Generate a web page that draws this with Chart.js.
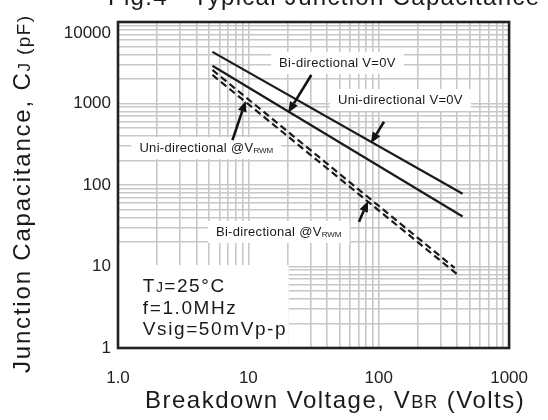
<!DOCTYPE html>
<html><head><meta charset="utf-8">
<script src="https://cdn.jsdelivr.net/npm/chart.js@4"></script>
<style>html,body{margin:0;padding:0;background:#fff;}canvas{display:block;}</style>
</head><body>
<canvas id="c" width="548" height="420"></canvas>
<script>
// ---- data ----
const voltageSolid = [5.3, 440];
const capBiZero = [4300, 78];
const capUniZero = [2900, 41];
const voltageUniRwm = [5.3, 382];
const capUniRwm = [2580, 9.6];
const voltageBiRwm = [5.3, 417];
const capBiRwm = [2240, 7.6];

const xTickValues = [1, 10, 100, 1000];
const xTickLabels = ['1.0', '10', '100', '1000'];
const yTickValues = [1, 10, 100, 1000, 10000];
const yTickLabels = ['1', '10', '100', '1000', '10000'];

const FONT = 'Arial, "Liberation Sans", Helvetica, sans-serif';

function gridVals(min, max) {
  const out = [];
  for (let e = Math.round(Math.log10(min)); Math.pow(10, e) <= max; e++) {
    for (let k = 1; k <= 9; k++) {
      const v = k * Math.pow(10, e);
      if (v >= min - 1e-9 && v <= max + 1e-9) out.push(v);
    }
  }
  return out;
}
function labelFor(vals, labels, v) {
  for (let i = 0; i < vals.length; i++) if (Math.abs(vals[i] - v) / vals[i] < 1e-6) return labels[i];
  return '';
}
function setLS(ctx, v) { if ('letterSpacing' in ctx) ctx.letterSpacing = (v || 0) + 'px'; }
function runsWidth(ctx, runs) {
  let w = 0;
  for (const r of runs) { ctx.font = r.size + 'px ' + FONT; setLS(ctx, r.ls); w += ctx.measureText(r.t).width; }
  setLS(ctx, 0);
  return w;
}
function drawRuns(ctx, x, y, runs) {
  let cx = x;
  for (const r of runs) {
    ctx.font = r.size + 'px ' + FONT; setLS(ctx, r.ls);
    ctx.fillText(r.t, cx, y + (r.dy || 0));
    cx += ctx.measureText(r.t).width;
  }
  setLS(ctx, 0);
  return cx - x;
}

// annotation anchors in data coordinates (volts, pF)
const curveLabels = [
  { runs: [{ t: 'Bi-directional V=0V', size: 13, ls: 0.3 }], x: 48.2, y: 3140 },
  { runs: [{ t: 'Uni-directional V=0V', size: 13, ls: 0.3 }], x: 146.6, y: 1104 },
  { runs: [{ t: 'Uni-directional @V', size: 13, ls: 0.3 }, { t: 'RWM', size: 8, dy: 3 }], x: 4.76, y: 284 },
  { runs: [{ t: 'Bi-directional @V', size: 13, ls: 0.3 }, { t: 'RWM', size: 8, dy: 3 }], x: 17.1, y: 26.5 }
];
const arrows = [
  { from: [30.4, 2238], to: [20.2, 771] },
  { from: [109.8, 598], to: [86.9, 325] },
  { from: [7.55, 356], to: [9.55, 1081] },
  { from: [70.5, 35.5], to: [83, 63.7] }
];
const condBox = { x0: 1, x1: 20.4, y0: 10.4, y1: 1 };
const condLines = [
  { x: 1.55, y: 5.93, runs: [{ t: 'T', size: 19, ls: 1.6 }, { t: 'J', size: 14, ls: 1.2 }, { t: '=25°C', size: 19, ls: 1.6 }] },
  { x: 1.55, y: 3.18, runs: [{ t: 'f=1.0MHz', size: 19, ls: 1.6 }] },
  { x: 1.55, y: 1.76, runs: [{ t: 'Vsig=50mVp-p', size: 19, ls: 1.6 }] }
];

const annot = {
  id: 'annot',
  beforeDatasetsDraw(chart) {
    const { ctx, scales: { x, y } } = chart;
    ctx.save();
    ctx.fillStyle = '#fff';
    const bx0 = x.getPixelForValue(condBox.x0), bx1 = x.getPixelForValue(condBox.x1);
    const by0 = y.getPixelForValue(condBox.y0), by1 = y.getPixelForValue(condBox.y1);
    ctx.fillRect(bx0, by0, bx1 - bx0, by1 - by0);
    for (const L of curveLabels) {
      const w = runsWidth(ctx, L.runs);
      const cx = x.getPixelForValue(L.x), cy = y.getPixelForValue(L.y);
      ctx.fillRect(cx - w / 2 - 8, cy - 11, w + 16, 22);
    }
    ctx.restore();
  },
  afterDatasetsDraw(chart) {
    const { ctx, chartArea: ca, scales: { x, y } } = chart;
    ctx.save();
    ctx.fillStyle = '#1a1a1a';
    ctx.textBaseline = 'middle';
    for (const L of curveLabels) {
      const w = runsWidth(ctx, L.runs);
      const cx = x.getPixelForValue(L.x), cy = y.getPixelForValue(L.y);
      drawRuns(ctx, cx - w / 2, cy, L.runs);
    }
    ctx.textBaseline = 'alphabetic';
    for (const C of condLines) {
      drawRuns(ctx, x.getPixelForValue(C.x), y.getPixelForValue(C.y) + 7, C.runs);
    }
    ctx.strokeStyle = '#111'; ctx.fillStyle = '#111'; ctx.lineWidth = 2.6; ctx.lineCap = 'butt';
    for (const A of arrows) {
      const x1 = x.getPixelForValue(A.from[0]), y1 = y.getPixelForValue(A.from[1]);
      const x2 = x.getPixelForValue(A.to[0]), y2 = y.getPixelForValue(A.to[1]);
      const ang = Math.atan2(y2 - y1, x2 - x1);
      const hl = 11, hw = 4.5;
      const bx = x2 - hl * Math.cos(ang), byy = y2 - hl * Math.sin(ang);
      ctx.beginPath(); ctx.moveTo(x1, y1); ctx.lineTo(bx, byy); ctx.stroke();
      ctx.beginPath();
      ctx.moveTo(x2, y2);
      ctx.lineTo(bx + hw * Math.sin(ang), byy - hw * Math.cos(ang));
      ctx.lineTo(bx - hw * Math.sin(ang), byy + hw * Math.cos(ang));
      ctx.closePath(); ctx.fill();
    }
    ctx.strokeStyle = '#222'; ctx.lineWidth = 2.6;
    ctx.strokeRect(ca.left, ca.top, ca.right - ca.left, ca.bottom - ca.top);
    ctx.restore();
  },
  afterDraw(chart) {
    const { ctx, chartArea: ca, scales: { y } } = chart;
    ctx.save();
    ctx.textAlign = 'right'; ctx.textBaseline = 'middle';
    ctx.font = '17px ' + FONT; ctx.fillStyle = '#222';
    const topIdx = yTickValues.length - 1;
    ctx.fillText(yTickLabels[topIdx], ca.left - 7, Math.max(y.getPixelForValue(yTickValues[topIdx]), ca.top + 11));
    ctx.textAlign = 'left'; ctx.textBaseline = 'alphabetic'; ctx.fillStyle = '#1a1a1a';
    drawRuns(ctx, 108, 5, [{ t: 'Fig.4 - Typical Junction Capacitance', size: 24, ls: 1.3 }]);
    drawRuns(ctx, 145, 408, [{ t: 'Breakdown Voltage, V', size: 24, ls: 1.5 }, { t: 'BR', size: 18, ls: 1.2 }, { t: ' (Volts)', size: 24, ls: 1.5 }]);
    ctx.translate(30, 373);
    ctx.rotate(-Math.PI / 2);
    drawRuns(ctx, 0, 0, [{ t: 'Junction Capacitance, C', size: 24, ls: 1.8 }, { t: 'J', size: 17, ls: 1.4 }, { t: ' (pF)', size: 19, ls: 1.4 }]);
    ctx.restore();
  }
};

const lineStyle = { showLine: true, borderColor: '#1a1a1a', borderWidth: 2.2, pointRadius: 0, fill: false };
const toPts = (xs, ys) => xs.map((v, i) => ({ x: v, y: ys[i] }));

new Chart(document.getElementById('c'), {
  type: 'scatter',
  data: {
    datasets: [
      Object.assign({ label: 'Bi-directional V=0V', data: toPts(voltageSolid, capBiZero) }, lineStyle),
      Object.assign({ label: 'Uni-directional V=0V', data: toPts(voltageSolid, capUniZero) }, lineStyle),
      Object.assign({ label: 'Uni-directional @VRWM', data: toPts(voltageUniRwm, capUniRwm), borderDash: [7, 4] }, lineStyle),
      Object.assign({ label: 'Bi-directional @VRWM', data: toPts(voltageBiRwm, capBiRwm), borderDash: [7, 4] }, lineStyle)
    ]
  },
  options: {
    responsive: false, animation: false, devicePixelRatio: 1,
    layout: { padding: { left: 0, right: 36, top: 22, bottom: 0 } },
    plugins: { legend: { display: false }, tooltip: { enabled: false }, title: { display: false } },
    scales: {
      x: {
        type: 'logarithmic', min: 1, max: 1000,
        afterBuildTicks: s => { s.ticks = gridVals(1, 1000).map(v => ({ value: v })); },
        afterFit: s => { s.height = 72; },
        ticks: { autoSkip: false, maxRotation: 0, minRotation: 0, color: '#222', padding: 20,
          font: { size: 17, family: FONT },
          callback: v => labelFor(xTickValues, xTickLabels, v) },
        grid: { color: '#c8c8c8', lineWidth: 1.6, drawTicks: false },
        border: { display: false }
      },
      y: {
        type: 'logarithmic', min: 1, max: 10000,
        afterBuildTicks: s => { s.ticks = gridVals(1, 10000).map(v => ({ value: v })); },
        afterFit: s => { s.width = 118; },
        ticks: { autoSkip: false, color: '#222', padding: 7,
          font: { size: 17, family: FONT },
          callback: v => (v >= yTickValues[yTickValues.length - 1] ? '' : labelFor(yTickValues, yTickLabels, v)) },
        grid: { color: '#c8c8c8', lineWidth: 1.6, drawTicks: false },
        border: { display: false }
      }
    }
  },
  plugins: [annot]
});
</script>
</body></html>
